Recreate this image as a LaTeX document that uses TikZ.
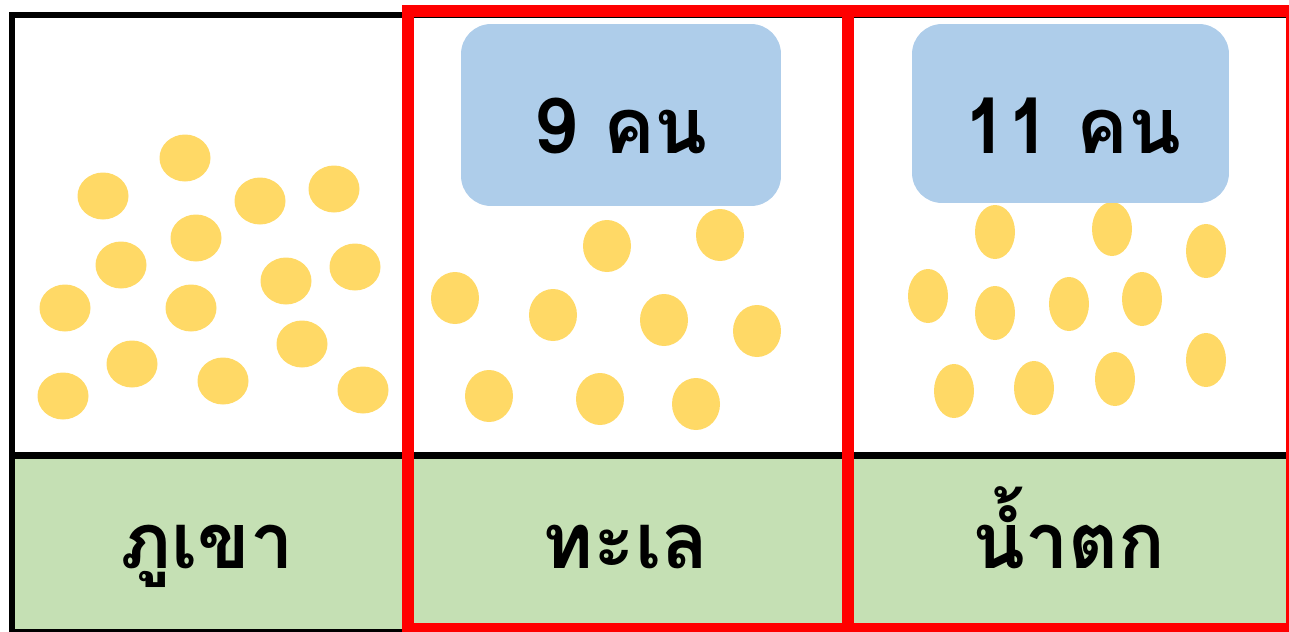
\documentclass[tikz,border=0pt]{standalone}
\usepackage{fontspec}
\newfontfamily\thaifont[Script=Thai]{Loma}
\definecolor{dotyellow}{RGB}{255,217,102}
\definecolor{rowgreen}{RGB}{197,224,180}
\definecolor{countblue}{RGB}{174,205,234}
\definecolor{framered}{RGB}{255,0,0}

\begin{document}
\begin{tikzpicture}[x=0.02cm,y=-0.02cm,
  every node/.style={font=\thaifont\bfseries\fontsize{44}{48}\selectfont},
  gridline/.style={draw=black,line width=0.14cm},
  redframe/.style={draw=framered,line width=0.24cm},
  countbox/.style={fill=countblue,rounded corners=0.6cm,inner sep=0pt},
  txt/.style={anchor=base,inner sep=0pt}
]
\useasboundingbox (0,0) rectangle (1289,632);
% label row
\fill[rowgreen] (12,455) rectangle (1290,632);
% people as dots
\foreach \x/\y in {185/158,103/196,260/201,334/189,196/238,121/265,286/281,355/267,
  65/308,191/308,132/364,302/344,63/396,223/381,363/390}
  \fill[dotyellow] (\x,\y) ellipse [x radius=25.5,y radius=23.5];
\foreach \x/\y in {607/246,720/235,455/298,553/315,664/320,757/331,489/396,600/399,696/404}
  \fill[dotyellow] (\x,\y) ellipse [x radius=24,y radius=26];
\foreach \x/\y in {995/232,1112/229,1206/251,928/296,995/313,1069/304,1142/299,
  954/391,1034/388,1115/379,1206/360}
  \fill[dotyellow] (\x,\y) ellipse [x radius=20,y radius=27];
% table
\draw[gridline] (12,15) rectangle (1290,632);
\draw[gridline] (12,455.5) -- (1290,455.5);
\draw[gridline] (407.5,15) -- (407.5,632);
\draw[gridline] (847.5,15) -- (847.5,632);
% counts
\node[countbox,minimum width=6.4cm,minimum height=3.64cm] (box9) at (621,115) {};
\node[countbox,minimum width=6.34cm,minimum height=3.58cm] (box11) at (1070.5,113.5) {};
\node[txt] (n9) at (621,153) {9 คน};
\node[txt] (n11) at (1073,153) {11 คน};
% place names
\node[txt] (mountain) at (207,568) {ภูเขา};
\node[txt] (sea) at (626,568) {ทะเล};
\node[txt] (fall) at (1069,568) {น้ำตก};
% highlighted columns
\draw[redframe] (407.5,11) rectangle (847.5,629);
\draw[redframe] (847.5,11) rectangle (1292,629);
\end{tikzpicture}
\end{document}
